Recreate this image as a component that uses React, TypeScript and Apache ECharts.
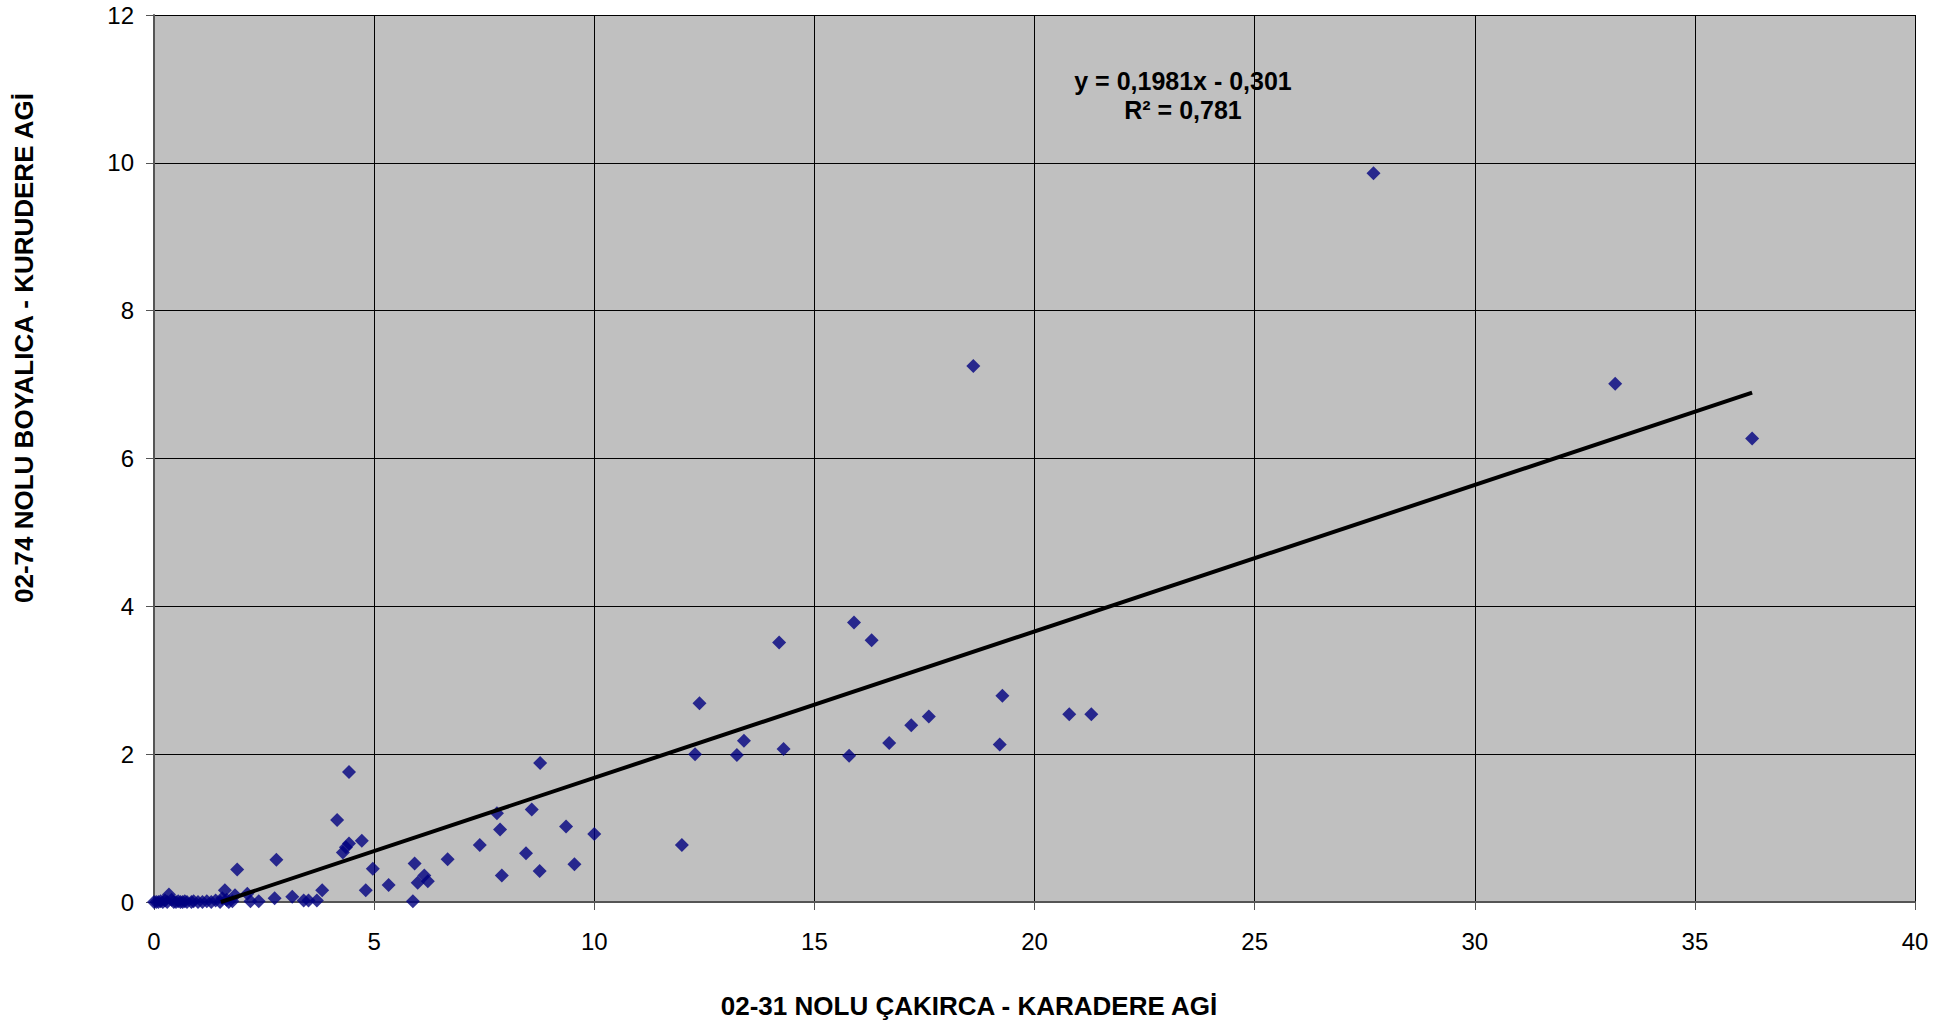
import React, { useEffect, useRef } from "react";
import * as echarts from "echarts";

const xValues = [
  0, 0.05, 0.1, 0.15, 0.2, 0.25, 0.3, 0.34, 0.4, 0.45, 0.5, 0.55, 0.6, 0.65, 0.7, 0.75, 0.85, 0.9,
  1.0, 1.1, 1.2, 1.3, 1.4, 1.5, 1.55, 1.61, 1.65, 1.7, 1.78, 1.84, 1.89, 2.12, 2.19, 2.38, 2.74,
  2.78, 3.14, 3.4, 3.51, 3.7, 3.82, 4.16, 4.29, 4.36, 4.43, 4.43, 4.72, 4.81, 4.97, 5.33, 5.88,
  5.92, 5.99, 6.14, 6.22, 6.67, 7.4, 7.79, 7.86, 7.9, 8.45, 8.58, 8.76, 8.77, 9.36, 9.55, 10.0,
  11.99, 12.29, 12.39, 13.24, 13.4, 14.2, 14.3, 15.79, 15.9, 16.3, 16.7, 17.2, 17.6, 18.61, 19.21,
  19.27, 20.79, 21.29, 27.7, 33.19, 36.3,
];
const yValues = [
  0, 0, 0, 0.01, 0, 0.02, 0, 0.1, 0.03, 0, 0, 0.01, 0, 0, 0.01, 0, 0, 0.01,
  0, 0, 0.01, 0, 0.02, 0, 0.05, 0.16, 0.03, 0, 0.01, 0.09, 0.44, 0.11, 0.01, 0.01, 0.05,
  0.57, 0.07, 0.02, 0.02, 0.02, 0.16, 1.11, 0.67, 0.74, 0.79, 1.76, 0.83, 0.16, 0.45, 0.23, 0.01,
  0.52, 0.26, 0.36, 0.28, 0.58, 0.77, 1.2, 0.98, 0.36, 0.66, 1.25, 0.42, 1.88, 1.02, 0.51, 0.92,
  0.77, 2.0, 2.69, 1.99, 2.18, 3.51, 2.07, 1.98, 3.78, 3.54, 2.15, 2.39, 2.51, 7.25, 2.13,
  2.79, 2.54, 2.54, 9.86, 7.01, 6.27,
];

const trendSlope = 0.1981;
const trendIntercept = -0.301;
const trendXMax = 36.3;
const equationText = "y = 0,1981x - 0,301";
const r2Text = "R² = 0,781";

const xTitle = "02-31 NOLU ÇAKIRCA - KARADERE AGİ";
const yTitle = "02-74 NOLU BOYALICA - KURUDERE AGİ";

export default function App() {
  const ref = useRef<HTMLDivElement>(null);
  useEffect(() => {
    if (!ref.current) return;
    const chart = echarts.init(ref.current, null, { renderer: "svg" });
    const pts = xValues.map((x, i) => [x, yValues[i]]);
    const xStart = -trendIntercept / trendSlope;
    const trend = [
      [xStart, 0],
      [trendXMax, trendSlope * trendXMax + trendIntercept],
    ];
    const font = "'Liberation Sans', Arial, sans-serif";
    chart.setOption({
      animation: false,
      backgroundColor: "#ffffff",
      grid: {
        left: 154,
        right: 44,
        top: 15,
        bottom: 125,
        show: true,
        backgroundColor: "#c0c0c0",
        borderWidth: 0,
      },
      xAxis: {
        type: "value",
        min: 0,
        max: 40,
        interval: 5,
        axisLine: { show: true, lineStyle: { color: "#555555", width: 2 } },
        axisTick: { show: true, length: 8, lineStyle: { color: "#555555" } },
        axisLabel: { color: "#000", fontFamily: font, fontSize: 24, margin: 27 },
        splitLine: { show: true, lineStyle: { color: "#000", width: 1 } },
      },
      yAxis: {
        type: "value",
        min: 0,
        max: 12,
        interval: 2,
        axisLine: { show: true, lineStyle: { color: "#555555", width: 2 } },
        axisTick: { show: true, length: 8, lineStyle: { color: "#555555" } },
        axisLabel: { color: "#000", fontFamily: font, fontSize: 24, margin: 20 },
        splitLine: { show: true, lineStyle: { color: "#000", width: 1 } },
      },
      series: [
        {
          type: "scatter",
          data: pts,
          symbol: "diamond",
          symbolSize: 14,
          itemStyle: { color: "#000080" },
          z: 3,
        },
        {
          type: "line",
          data: trend,
          symbol: "none",
          lineStyle: { color: "#000", width: 4 },
          z: 4,
        },
      ],
      graphic: [
        {
          type: "text",
          x: 1183,
          y: 81,
          style: {
            text: equationText,
            fontFamily: font,
            fontWeight: "bold",
            fontSize: 25,
            fill: "#000",
            textAlign: "center",
            textVerticalAlign: "middle",
          },
          z: 10,
        },
        {
          type: "text",
          x: 1183,
          y: 110,
          style: {
            text: r2Text,
            fontFamily: font,
            fontWeight: "bold",
            fontSize: 25,
            fill: "#000",
            textAlign: "center",
            textVerticalAlign: "middle",
          },
          z: 10,
        },
        {
          type: "text",
          x: 969,
          y: 1006,
          style: {
            text: xTitle,
            fontFamily: font,
            fontWeight: "bold",
            fontSize: 26,
            fill: "#000",
            textAlign: "center",
            textVerticalAlign: "middle",
          },
        },
        {
          type: "text",
          x: 24,
          y: 348,
          rotation: Math.PI / 2,
          style: {
            text: yTitle,
            fontFamily: font,
            fontWeight: "bold",
            fontSize: 26,
            fill: "#000",
            textAlign: "center",
            textVerticalAlign: "middle",
          },
        },
      ],
    });
    return () => chart.dispose();
  }, []);
  return (
    <div
      ref={ref}
      style={{ position: "fixed", left: 0, top: 0, width: 1959, height: 1027 }}
    />
  );
}
